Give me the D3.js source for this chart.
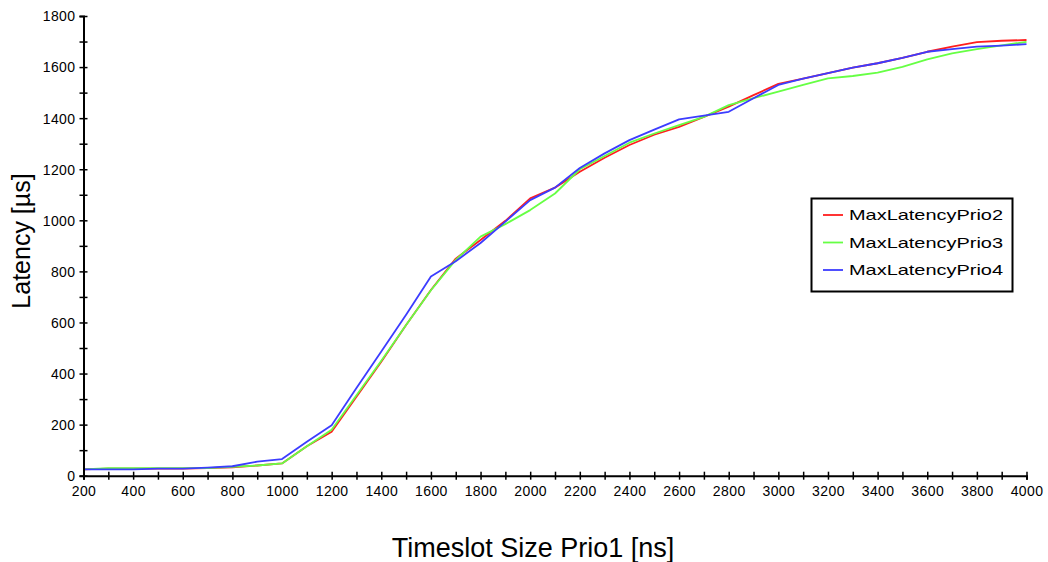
<!DOCTYPE html>
<html>
<head>
<meta charset="utf-8">
<script src="https://cdn.jsdelivr.net/npm/d3@7/dist/d3.min.js"></script>
<style>
  html, body { margin: 0; padding: 0; background: #fff; }
  svg { display: block; }
  text { font-family: "Liberation Sans", Arial, sans-serif; fill: #000; }
</style>
</head>
<body>
<svg id="chart" width="1048" height="562"></svg>
<script>
// Timeslot size of priority 1 traffic [ns]
const timeslots = d3.range(200, 4001, 100);

// Maximum latency per priority class [µs]
const maxLatencyPrio2 = [25, 28, 28, 28, 28, 30, 33, 40, 48, 115, 172, 309, 446, 590, 727, 850, 923, 998, 1086, 1128,
  1190, 1245, 1295, 1335, 1366, 1405, 1445, 1490, 1534, 1555, 1576, 1598, 1615, 1636, 1660, 1680, 1698, 1703, 1706];
const maxLatencyPrio3 = [25, 30, 30, 30, 30, 30, 35, 40, 48, 115, 180, 315, 450, 590, 726, 845, 936, 985, 1040, 1105,
  1200, 1252, 1304, 1340, 1373, 1405, 1451, 1478, 1504, 1530, 1556, 1565, 1578, 1601, 1630, 1654, 1670, 1685, 1699];
const maxLatencyPrio4 = [25, 25, 25, 28, 28, 32, 37, 55, 65, 133, 198, 343, 486, 630, 780, 840, 911, 995, 1079, 1128,
  1205, 1262, 1314, 1355, 1395, 1410, 1425, 1478, 1530, 1555, 1576, 1598, 1615, 1636, 1660, 1670, 1680, 1684, 1690];

const seriesNames = ["MaxLatencyPrio2", "MaxLatencyPrio3", "MaxLatencyPrio4"];
const seriesColors = ["#ff1e1e", "#66ff44", "#3c3cff"];
const seriesValues = [maxLatencyPrio2, maxLatencyPrio3, maxLatencyPrio4];

const xTicks = d3.range(200, 4001, 100);
const yTicks = d3.range(0, 1801, 100);

const svg = d3.select("#chart");

const x = d3.scaleLinear().domain([200, 4000]).range([83.5, 1026.5]);
const y = d3.scaleLinear().domain([0, 1800]).range([475.7, 16]);

// Lines (drawn under the axes)
const line = d3.line()
  .x((d, i) => x(timeslots[i]))
  .y(d => y(d));

svg.append("g")
  .selectAll("path")
  .data(seriesValues)
  .join("path")
  .attr("d", d => line(d))
  .attr("fill", "none")
  .attr("stroke", (d, i) => seriesColors[i])
  .attr("stroke-width", 1.8)
  .attr("stroke-linejoin", "round");

// X axis: minor ticks every 100, labels every 200, ticks crossing the axis
const xAxis = svg.append("g")
  .attr("transform", `translate(0,${y(0)})`)
  .call(d3.axisBottom(x)
    .tickValues(xTicks)
    .tickSize(4)
    .tickFormat(d => d % 200 === 0 ? d : ""));
xAxis.select(".domain").attr("stroke", "#000").attr("stroke-width", 2);
xAxis.selectAll(".tick line").attr("y1", -4).attr("y2", 4).attr("stroke", "#000").attr("stroke-width", 1.5);
xAxis.selectAll(".tick text")
  .attr("y", 20).attr("dy", 0)
  .style("font-size", "14px")
  .style("letter-spacing", "0.4px")
  .attr("font-family", null);

// Y axis
const yAxis = svg.append("g")
  .attr("transform", `translate(${x(200)},0)`)
  .call(d3.axisLeft(y)
    .tickValues(yTicks)
    .tickSize(4)
    .tickFormat(d => d % 200 === 0 ? d : ""));
yAxis.select(".domain").attr("stroke", "#000").attr("stroke-width", 2);
yAxis.selectAll(".tick line").attr("x1", -4).attr("x2", 4).attr("stroke", "#000").attr("stroke-width", 1.5);
yAxis.selectAll(".tick text")
  .attr("x", -8).attr("dy", "0.35em")
  .style("font-size", "14px")
  .style("letter-spacing", "0.4px")
  .attr("font-family", null);

// Axis titles
svg.append("text")
  .attr("x", 533).attr("y", 557)
  .attr("text-anchor", "middle")
  .style("font-size", "27px")
  .text("Timeslot Size Prio1 [ns]");

svg.append("text")
  .attr("transform", "translate(30,241) rotate(-90)")
  .attr("text-anchor", "middle")
  .style("font-size", "25px")
  .text("Latency [µs]");

// Legend
const legend = svg.append("g");
legend.append("rect")
  .attr("x", 811.5).attr("y", 198.5)
  .attr("width", 201).attr("height", 93)
  .attr("fill", "#fff").attr("stroke", "#000").attr("stroke-width", 2);

const rows = legend.selectAll("g.row")
  .data(seriesNames)
  .join("g")
  .attr("class", "row")
  .attr("transform", (d, i) => `translate(0,${215 + i * 27.5})`);
rows.append("line")
  .attr("x1", 823).attr("x2", 843)
  .attr("stroke", (d, i) => seriesColors[i])
  .attr("stroke-width", 1.8);
rows.append("text")
  .attr("x", 849).attr("dy", "0.36em")
  .style("font-size", "15px")
  .attr("textLength", 154)
  .attr("lengthAdjust", "spacingAndGlyphs")
  .text(d => d);
</script>
</body>
</html>
